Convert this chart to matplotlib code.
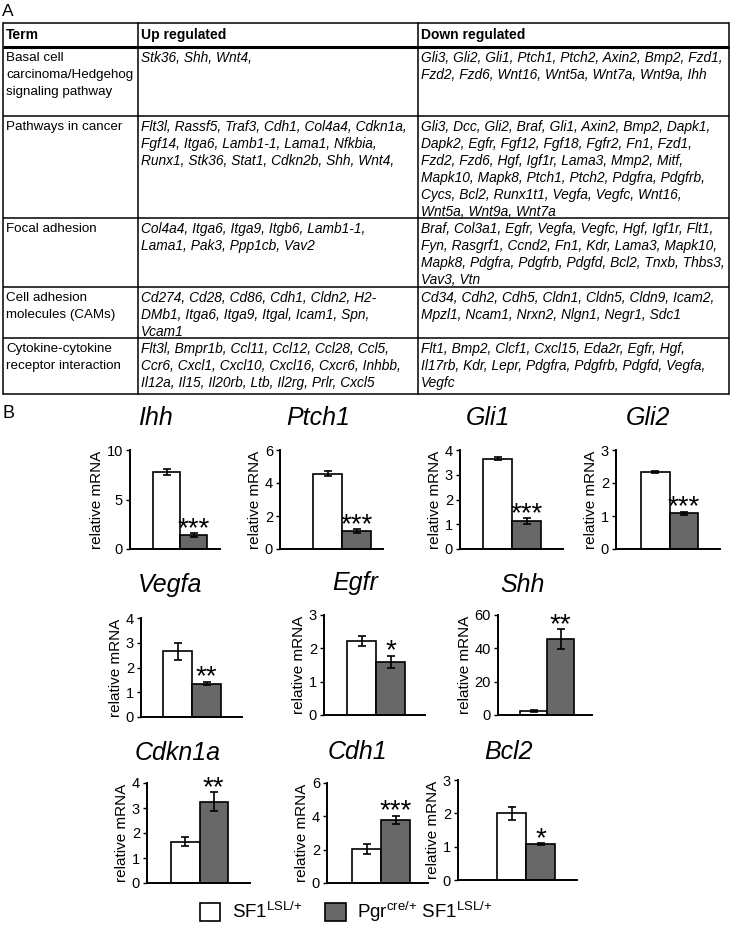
import matplotlib
matplotlib.use("Agg")
import matplotlib.pyplot as plt

plt.rcParams['font.family'] = ['Liberation Sans', 'DejaVu Sans']

W, H = 733, 925

# ---- panel A: KEGG table ----
header = ["Term", "Up regulated", "Down regulated"]
terms = [
    ["Basal cell", "carcinoma/Hedgehog", "signaling pathway"],
    ["Pathways in cancer"],
    ["Focal adhesion"],
    ["Cell adhesion", "molecules (CAMs)"],
    ["Cytokine-cytokine", "receptor interaction"],
]
up_genes = [
    ["Stk36, Shh, Wnt4,"],
    ["Flt3l, Rassf5, Traf3, Cdh1, Col4a4, Cdkn1a,",
     "Fgf14, Itga6, Lamb1-1, Lama1, Nfkbia,",
     "Runx1, Stk36, Stat1, Cdkn2b, Shh, Wnt4,"],
    ["Col4a4, Itga6, Itga9, Itgb6, Lamb1-1,",
     "Lama1, Pak3, Ppp1cb, Vav2"],
    ["Cd274, Cd28, Cd86, Cdh1, Cldn2, H2-",
     "DMb1, Itga6, Itga9, Itgal, Icam1, Spn,",
     "Vcam1"],
    ["Flt3l, Bmpr1b, Ccl11, Ccl12, Ccl28, Ccl5,",
     "Ccr6, Cxcl1, Cxcl10, Cxcl16, Cxcr6, Inhbb,",
     "Il12a, Il15, Il20rb, Ltb, Il2rg, Prlr, Cxcl5"],
]
down_genes = [
    ["Gli3, Gli2, Gli1, Ptch1, Ptch2, Axin2, Bmp2, Fzd1,",
     "Fzd2, Fzd6, Wnt16, Wnt5a, Wnt7a, Wnt9a, Ihh"],
    ["Gli3, Dcc, Gli2, Braf, Gli1, Axin2, Bmp2, Dapk1,",
     "Dapk2, Egfr, Fgf12, Fgf18, Fgfr2, Fn1, Fzd1,",
     "Fzd2, Fzd6, Hgf, Igf1r, Lama3, Mmp2, Mitf,",
     "Mapk10, Mapk8, Ptch1, Ptch2, Pdgfra, Pdgfrb,",
     "Cycs, Bcl2, Runx1t1, Vegfa, Vegfc, Wnt16,",
     "Wnt5a, Wnt9a, Wnt7a"],
    ["Braf, Col3a1, Egfr, Vegfa, Vegfc, Hgf, Igf1r, Flt1,",
     "Fyn, Rasgrf1, Ccnd2, Fn1, Kdr, Lama3, Mapk10,",
     "Mapk8, Pdgfra, Pdgfrb, Pdgfd, Bcl2, Tnxb, Thbs3,",
     "Vav3, Vtn"],
    ["Cd34, Cdh2, Cdh5, Cldn1, Cldn5, Cldn9, Icam2,",
     "Mpzl1, Ncam1, Nrxn2, Nlgn1, Negr1, Sdc1"],
    ["Flt1, Bmp2, Clcf1, Cxcl15, Eda2r, Egfr, Hgf,",
     "Il17rb, Kdr, Lepr, Pdgfra, Pdgfrb, Pdgfd, Vegfa,",
     "Vegfc"],
]

# ---- panel B: qPCR ----
genes = ["Ihh", "Ptch1", "Gli1", "Gli2", "Vegfa", "Egfr", "Shh", "Cdkn1a", "Cdh1", "Bcl2"]
ctrl_mean = [7.8, 4.55, 3.65, 2.33, 2.65, 2.22, 2.5, 1.65, 2.05, 2.0]
ctrl_err = [0.3, 0.15, 0.05, 0.04, 0.33, 0.15, 0.8, 0.18, 0.3, 0.2]
mut_mean = [1.4, 1.1, 1.12, 1.08, 1.35, 1.6, 45.5, 3.25, 3.78, 1.07]
mut_err = [0.22, 0.1, 0.12, 0.05, 0.07, 0.18, 6.0, 0.38, 0.25, 0.03]
signif = ["***", "***", "***", "***", "**", "*", "**", "**", "***", "*"]
y_max = [10, 6, 4, 3, 4, 3, 60, 4, 6, 3]
y_step = [5, 2, 1, 1, 1, 1, 20, 1, 2, 1]
legend_labels = ["SF1$^{\\mathregular{LSL/{+}}}$",
                 "Pgr$^{\\mathregular{cre/{+}}}$ SF1$^{\\mathregular{LSL/{+}}}$"]

# layout in pixels (left, top, right, bottom), first bar left edge, title centre
boxes = [(130, 450, 220, 549), (280, 450, 383, 549), (460, 450, 563, 549), (616, 450, 720, 549),
         (141, 618, 242, 717), (324, 615, 425, 715), (498, 615, 592, 715),
         (147, 783, 250, 883), (327, 783, 428, 883), (458, 780, 577, 880)]
bar_left = [153, 313, 483, 641, 163, 347, 520, 171, 352, 497]
bar_px = [27, 29, 29, 28.5, 29, 29, 27, 28.5, 29, 29]
titles_at = [(155, 418), (318, 418), (488, 418), (648, 418),
             (170, 585), (355, 583), (522, 585),
             (178, 753), (357, 752), (508, 752)]

col_x = [3, 138, 418, 729]
row_y = [23, 47, 116, 218, 287, 338, 394]
line_h = 17

fig = plt.figure(figsize=(W / 100, H / 100), dpi=100)
bg = fig.add_axes([0, 0, 1, 1])
bg.set_xlim(0, W)
bg.set_ylim(H, 0)
bg.axis("off")

bg.text(2, 11, "A", fontsize=12.5, va="center", ha="left")
bg.text(3, 413, "B", fontsize=13, va="center", ha="left")

# table grid
for i, y in enumerate(row_y):
    lw = 2.2 if i == 1 else 1.1
    bg.plot([col_x[0], col_x[-1]], [y, y], color="black", lw=lw, solid_capstyle="butt")
for x in col_x:
    bg.plot([x, x], [row_y[0], row_y[-1]], color="black", lw=1.1)

for j, h in enumerate(header):
    bg.text(col_x[j] + 3, (row_y[0] + row_y[1]) / 2, h, fontsize=10,
            fontweight="bold", va="center", ha="left")

for i in range(len(terms)):
    top = row_y[i + 1]
    for j, cell in enumerate([terms[i], up_genes[i], down_genes[i]]):
        for k, line in enumerate(cell):
            bg.text(col_x[j] + 3, top + 11 + k * line_h, line,
                    fontsize=9.6 if j == 0 else 9.9,
                    style="normal" if j == 0 else "italic", va="center", ha="left")

handles = None
for n, g in enumerate(genes):
    l, t, r, b = boxes[n]
    ax = fig.add_axes([l / W, 1 - b / H, (r - l) / W, (b - t) / H])
    bw = bar_px[n]
    x0 = -0.5 - (bar_left[n] - l) / bw
    ax.set_xlim(x0, x0 + (r - l) / bw)
    ax.set_ylim(0, y_max[n])
    h1 = ax.bar(0, ctrl_mean[n], width=1, color="white", edgecolor="black", linewidth=1.2)
    h2 = ax.bar(1, mut_mean[n], width=1, color="#686868", edgecolor="black", linewidth=1.2)
    ax.errorbar([0, 1], [ctrl_mean[n], mut_mean[n]], yerr=[ctrl_err[n], mut_err[n]],
                fmt="none", ecolor="black", elinewidth=1.2, capsize=3, capthick=1.2, zorder=3)
    ax.annotate(signif[n], xy=(1, mut_mean[n] + mut_err[n]), xytext=(0, -2),
                textcoords="offset points", ha="center", va="baseline", fontsize=20,
                annotation_clip=False)
    ax.set_yticks(range(0, y_max[n] + 1, y_step[n]))
    ax.set_xticks([])
    ax.tick_params(axis="y", direction="out", length=3, width=1, labelsize=10.5, pad=2)
    for s in ["top", "right"]:
        ax.spines[s].set_visible(False)
    for s in ["left", "bottom"]:
        ax.spines[s].set_linewidth(1.4)
    ax.set_ylabel("relative mRNA", fontsize=11, labelpad=2)
    ax.patch.set_alpha(0)
    bg.text(titles_at[n][0], titles_at[n][1], g, fontsize=18, style="italic",
            ha="center", va="center")
    if handles is None:
        handles = [h1, h2]

fig.legend(handles, legend_labels, loc="center", bbox_to_anchor=(346 / W, 1 - 912 / H),
           ncol=2, frameon=False, fontsize=13.5, handlelength=1.1, handleheight=1.1,
           handletextpad=0.6, columnspacing=1.2)

fig.savefig("out.png", dpi=100)
